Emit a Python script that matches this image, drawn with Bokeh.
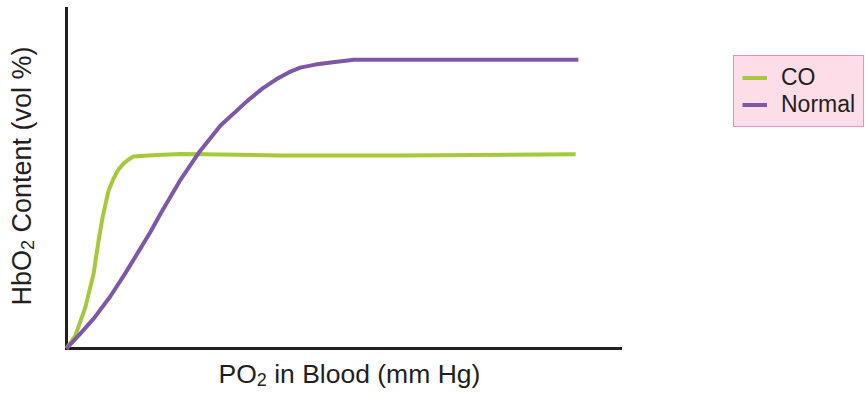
import math
from bokeh.plotting import figure
from bokeh.models import Range1d, Legend, LegendItem, Label
from bokeh.embed import file_html
from bokeh.resources import INLINE

# PO2 (mm Hg, relative 0-100 scale) vs HbO2 content (relative 0-100 scale)
normal_x = [0, 2.5, 4.9, 7.9, 10.6, 13.0, 15.2, 17.0, 20.6, 23.8, 27.8, 32.7, 35.4, 38.1, 40.1, 42.2, 44.9, 47.7, 50.4, 51.8, 60.3, 92.4]
normal_y = [0, 4.4, 8.8, 15.3, 22.1, 28.5, 34.4, 39.7, 49.7, 57.4, 65.6, 72.9, 76.5, 79.4, 81.2, 82.6, 83.5, 84.1, 84.6, 84.9, 84.9, 84.9]

co_x = [0, 1.6, 3.4, 4.9, 5.8, 6.5, 7.6, 8.5, 9.4, 10.3, 11.2, 12.1, 13.4, 16.4, 20.6, 24.7, 38.6, 60.3, 91.9]
co_y = [0, 3.8, 12.1, 22.1, 31.8, 38.5, 46.5, 50.0, 52.7, 54.4, 55.6, 56.5, 56.6, 56.9, 57.2, 57.1, 56.8, 56.8, 57.1]

axis_x_span = [0, 100]
axis_y_span = [0, 100]

series_names = ["CO", "Normal"]
series_colors = ["#a5c93b", "#7e58a6"]

x_label_parts = ["PO", "2", "in Blood (mm Hg)"]
y_label_parts = ["HbO", "2", "Content (vol %)"]

TEXT = "#231f20"
FONT = "Liberation Sans"

W, H = 865, 393
X0, Y0 = 66, 348          # page px of the origin
KX, KY = 5.54, 3.4        # px per data unit

p = figure(width=W, height=H,
           x_range=Range1d(-X0 / KX, (W - X0) / KX),
           y_range=Range1d(-(H - Y0) / KY, Y0 / KY),
           x_axis_location=None, y_axis_location=None,
           toolbar_location=None, output_backend="svg",
           min_border=0)
p.outline_line_color = None
p.xgrid.visible = False
p.ygrid.visible = False

# axis lines
p.line(axis_x_span, [0, 0], line_color=TEXT, line_width=3, line_cap="square")
p.line([0, 0], axis_y_span, line_color=TEXT, line_width=3, line_cap="square")

r_co = p.line(co_x, co_y, line_color=series_colors[0], line_width=4, line_join="round")
r_n = p.line(normal_x, normal_y, line_color=series_colors[1], line_width=4, line_join="round")

legend = Legend(items=[LegendItem(label=series_names[0], renderers=[r_co]),
                       LegendItem(label=series_names[1], renderers=[r_n])],
                location=(733, H - 127))
legend.label_text_font = FONT
legend.label_text_font_size = "23px"
legend.label_text_color = TEXT
legend.label_height = 25
legend.glyph_height = 25
legend.glyph_width = 25
legend.label_standoff = 14
legend.spacing = 0
legend.padding = 8
legend.border_line_color = "#e2408f"
legend.border_line_width = 1.5
legend.background_fill_color = "#fddde7"
legend.background_fill_alpha = 1.0
p.add_layout(legend, "center")

def dx(px):
    return (px - X0) / KX

def dy(py):
    return (Y0 - py) / KY

SHIFT = 10  # renderer places the alphabetic baseline ~10px further down

# x axis label
xs = 218
x_main = 26.5
x_sub = 18
w_po = (0.667 + 0.778) * x_main
w_two = 0.556 * x_sub
w_sp = 0.278 * x_main
bx = 383 - SHIFT
p.add_layout(Label(x=dx(xs), y=dy(bx), text=x_label_parts[0], text_font=FONT,
                   text_font_size=f"{x_main}px", text_color=TEXT, text_baseline="alphabetic"))
p.add_layout(Label(x=dx(xs + w_po), y=dy(bx + 6), text=x_label_parts[1], text_font=FONT,
                   text_font_size=f"{x_sub}px", text_color=TEXT, text_baseline="alphabetic"))
p.add_layout(Label(x=dx(xs + w_po + w_two + w_sp), y=dy(bx), text=x_label_parts[2], text_font=FONT,
                   text_font_size=f"{x_main}px", text_color=TEXT, text_baseline="alphabetic"))

# y axis label (rotated)
ys = 305
y_main = 27
y_sub = 18
w_hbo = (0.722 + 0.556 + 0.778) * y_main
w_two_y = 0.556 * y_sub
w_sp_y = 0.278 * y_main
by = 31.5 - SHIFT
ang = math.pi / 2
p.add_layout(Label(x=dx(by), y=dy(ys), text=y_label_parts[0], angle=ang, text_font=FONT,
                   text_font_size=f"{y_main}px", text_color=TEXT, text_baseline="alphabetic"))
p.add_layout(Label(x=dx(by + 5.5), y=dy(ys - w_hbo), text=y_label_parts[1], angle=ang, text_font=FONT,
                   text_font_size=f"{y_sub}px", text_color=TEXT, text_baseline="alphabetic"))
p.add_layout(Label(x=dx(by), y=dy(ys - w_hbo - w_two_y - w_sp_y), text=y_label_parts[2], angle=ang, text_font=FONT,
                   text_font_size=f"{y_main}px", text_color=TEXT, text_baseline="alphabetic"))

open("out.html", "w").write(file_html(p, INLINE))
